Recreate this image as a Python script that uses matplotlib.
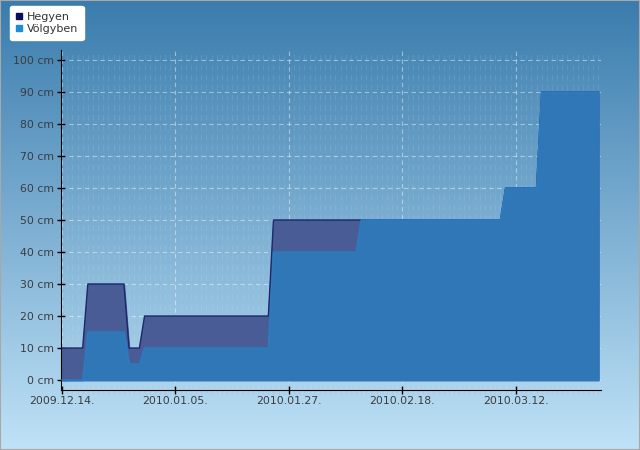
import datetime as dt
import numpy as np
import matplotlib
matplotlib.use("Agg")
import matplotlib.pyplot as plt
import matplotlib.dates as mdates
from matplotlib.lines import Line2D
from matplotlib.patches import Rectangle

# daily snow depth, 2009.12.14 - 2010.03.28
start = dt.date(2009, 12, 14)
n_days = 105
dates = [start + dt.timedelta(days=i) for i in range(n_days)]

hegyen = [10] * 5 + [30] * 8 + [10] * 3 + [20] * 25 + [50] * 45 + [60] * 7 + [90] * 12
volgyben = [0] * 5 + [15] * 8 + [5] * 3 + [10] * 25 + [40] * 17 + [50] * 28 + [60] * 7 + [90] * 12

series_names = ["Hegyen", "Völgyben"]
tick_dates = [dt.date(2009, 12, 14), dt.date(2010, 1, 5), dt.date(2010, 1, 27),
              dt.date(2010, 2, 18), dt.date(2010, 3, 12)]
y_ticks = [0, 10, 20, 30, 40, 50, 60, 70, 80, 90, 100]

fig = plt.figure(figsize=(6.4, 4.5), dpi=100)

# gradient background
bg = fig.add_axes([0, 0, 1, 1], zorder=-10)
top = np.array([0x3a, 0x7c, 0xad]) / 255
bot = np.array([0xbf, 0xe2, 0xf7]) / 255
t = np.linspace(0, 1, 256)[:, None]
grad = top[None, :] * (1 - t) + bot[None, :] * t
bg.imshow(grad[:, None, :], aspect="auto", extent=[0, 1, 0, 1])
bg.set_axis_off()

ax = fig.add_axes([61 / 640, 60 / 450, 540 / 640, 340 / 450])
ax.set_facecolor("none")

x = mdates.date2num(dates)
ax.fill_between(x, hegyen, 0, color="#4a5c96", zorder=2)
ax.plot(x, hegyen, color="#1c2a6a", lw=1.0, zorder=3)
ax.fill_between(x, volgyben, 0, color="#3077b7", zorder=4)
ax.plot(x, volgyben, color="#2a7cc4", lw=1.0, zorder=5)

ax.set_xlim(x[0] - 0.2, x[-1] + 0.5)
ax.set_ylim(-3.1, 103.1)

ax.xaxis.set_major_locator(matplotlib.ticker.FixedLocator(mdates.date2num(tick_dates)))
ax.xaxis.set_major_formatter(mdates.DateFormatter("%Y.%m.%d."))
ax.xaxis.set_minor_locator(mdates.DayLocator())
ax.set_yticks(y_ticks)
ax.set_yticklabels([f"{v} cm" for v in y_ticks])

ax.tick_params(axis="both", which="major", direction="inout", length=6, width=1,
               colors="black", labelcolor="#3c3c3c", labelsize=7.8)
ax.tick_params(axis="x", which="minor", direction="out", length=3, width=1, color="#a8cde6")
ax.tick_params(axis="y", pad=2)
ax.tick_params(axis="x", pad=1)

# grid
ax.grid(True, which="major", axis="both", color="white", alpha=0.45,
        linestyle=(0, (4, 3)), lw=0.8, zorder=1)
ax.grid(True, which="minor", axis="x", color="white", alpha=0.09,
        linestyle=(0, (5, 4)), lw=0.8, zorder=1)
ax.set_axisbelow(True)

for side in ["top", "right"]:
    ax.spines[side].set_visible(False)
ax.spines["left"].set_color("black")
ax.spines["bottom"].set_color("black")

# legend
handles = [Line2D([], [], marker="s", ls="none", markersize=5, color="#0c0c5c"),
           Line2D([], [], marker="s", ls="none", markersize=5, color="#1a8ed6")]
leg = fig.legend(handles, series_names, loc="upper left",
                 bbox_to_anchor=(10 / 640, 1 - 6 / 450), fontsize=8,
                 handlelength=0.7, handletextpad=0.3, labelspacing=0.25,
                 borderpad=0.5, borderaxespad=0, fancybox=True, framealpha=1,
                 edgecolor="white", facecolor="white")
for txt in leg.get_texts():
    txt.set_color("#333333")

# outer frame
fig.patches.append(Rectangle((0, 0), 1, 1, transform=fig.transFigure, fill=False,
                             edgecolor="#a8a8a8", lw=1.5))

fig.savefig("out.png", dpi=100)
